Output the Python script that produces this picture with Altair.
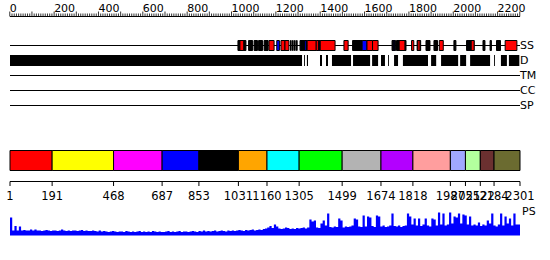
import altair as alt
import pandas as pd

# ---------------- data ----------------
LENGTH = 2301

ruler_tick_pos = list(range(0, 2301, 10))
ruler_label_pos = [0, 200, 400, 600, 800, 1000, 1200, 1400, 1600, 1800, 2000, 2200]

track_names = ["SS", "D", "TM", "CC", "SP"]

ss_black_start = [1029, 1077, 1102, 1122, 1147, 1266, 1275, 1284, 1293, 1309, 1546, 1724, 1744, 1837, 1877, 1913, 2003, 2060, 2134, 2166, 2195]
ss_black_end = [1065, 1095, 1117, 1140, 1165, 1269, 1278, 1287, 1296, 1341, 1589, 1740, 1787, 1853, 1895, 1929, 2012, 2094, 2143, 2172, 2213]

ss_red_start = [1038, 1169, 1223, 1241, 1341, 1382, 1400, 1507, 1610, 1636, 1756, 1812, 1840, 1937, 2080, 2234]
ss_red_end = [1055, 1192, 1241, 1259, 1382, 1400, 1467, 1526, 1636, 1661, 1782, 1822, 1850, 1955, 2094, 2287]

ss_blue_start = [1204, 1331, 1392, 1589, 1730, 2068, 2078]
ss_blue_end = [1216, 1338, 1397, 1610, 1734, 2070, 2080]

d_start = [1, 1327, 1340, 1399, 1426, 1453, 1548, 1634, 1674, 1706, 1733, 1773, 1900, 1945, 2031, 2076, 2184, 2215, 2251]
d_end = [1318, 1331, 1345, 1408, 1435, 1539, 1625, 1661, 1692, 1710, 1751, 1886, 1923, 2022, 2058, 2166, 2188, 2242, 2298]

domain_bounds = [1, 191, 468, 687, 853, 1031, 1160, 1305, 1499, 1674, 1818, 1987, 2055, 2122, 2184, 2301]
domain_colors = ["#ff0000", "#ffff00", "#ff00ff", "#0000ff", "#000000", "#ffa500", "#00ffff",
                 "#00ff00", "#b3b3b3", "#b300ff", "#ff9e9e", "#a0a8ff", "#b3ff9e", "#6b3030", "#6b6b30"]

# PS profile, one value per 10-residue window
ps_values = [
    18, 5, 9.5, 5, 9, 5, 5.5, 5, 5, 6,
    5, 6, 5, 5, 4.5, 5, 5.5, 5, 4.5, 5,
    5, 4.5, 5, 6, 5, 4.5, 5, 4.5, 5, 5,
    4.5, 5, 5.5, 4.5, 5, 4.5, 4.5, 5, 4.5, 4,
    5, 4, 4.5, 4, 3.5, 4, 4.5, 4, 3.5, 4,
    4, 3.5, 4.5, 4, 3.5, 4, 3.5, 4, 4.5, 3.5,
    4, 3.5, 4, 3.5, 4.5, 4, 3.5, 4, 3.5, 3.5,
    4, 4.5, 3.5, 4, 3.5, 4, 4.5, 3.5, 4, 4,
    3.5, 4, 4.5, 4, 3.5, 4.5, 4, 5, 4, 4.5,
    4, 4.5, 5, 4, 4.5, 5, 4.5, 4, 5, 4.5,
    5, 4.5, 5, 5.5, 5, 4.5, 5.5, 5, 5.5, 6,
    5, 5.5, 6, 5.5, 6.5, 7, 8, 9.5, 7.5, 11,
    9, 7, 6.5, 7, 8, 7.5, 6.5, 7, 6.5, 7.5,
    7, 7.5, 8, 7, 8, 16, 14, 15, 8, 7.5,
    12, 15, 10, 22, 8.5, 8, 9, 8.5, 17, 15,
    8, 9, 8.5, 9, 10, 17, 16, 9, 8.5, 20,
    9, 19, 18, 9.5, 8.5, 20, 19, 9, 10, 8.5,
    9, 10, 22, 9.5, 9, 10, 8.5, 9.5, 10, 22,
    19, 11, 17, 10, 17, 9.5, 11, 17, 10, 9,
    17, 16, 10, 23, 11, 22, 10, 11, 23, 12,
    19, 18, 22, 12, 21, 20, 11, 19, 10, 11,
    10, 13, 9.5, 11, 10, 15, 12, 22, 10, 9,
    11, 22, 10, 19, 12, 17, 10, 22, 11, 11,
]
ps_window = 10

# ---------------- tables ----------------
ps_pos = [1 + ps_window * i for i in range(len(ps_values))] + [LENGTH]
ps_df = pd.DataFrame({"pos": ps_pos, "ps": ps_values + [ps_values[-1]]})

ruler_df = pd.DataFrame({"pos": ruler_tick_pos,
                         "major": [p % 100 == 0 for p in ruler_tick_pos]})
ruler_lab_df = pd.DataFrame({"pos": ruler_label_pos, "label": [str(p) for p in ruler_label_pos]})
full_df = pd.DataFrame({"start": [1], "end": [LENGTH]})

ss_black_df = pd.DataFrame({"start": ss_black_start, "end": ss_black_end})
ss_red_df = pd.DataFrame({"start": ss_red_start, "end": ss_red_end})
ss_blue_df = pd.DataFrame({"start": ss_blue_start, "end": ss_blue_end})
d_df = pd.DataFrame({"start": d_start, "end": d_end})

dom_df = pd.DataFrame({"start": domain_bounds[:-1], "end": domain_bounds[1:], "color": domain_colors})
dom_lab_df = pd.DataFrame({"pos": domain_bounds, "label": [str(b) for b in domain_bounds]})

# ---------------- chart ----------------
FONT = "DejaVu Sans"
xs = alt.Scale(domain=[1, LENGTH], range=[10, 520], nice=False, zero=False)


def X(field):
    return alt.X(f"{field}:Q", scale=xs, axis=None)


def X2(field):
    return alt.X2(f"{field}:Q")


layers = []

# ruler
layers.append(alt.Chart(full_df).mark_rule(color="black", strokeWidth=1).encode(
    x=X("start"), x2=X2("end"), y=alt.value(16.5)))
layers.append(alt.Chart(ruler_df).transform_filter("!datum.major").mark_rule(color="black", strokeWidth=0.8).encode(
    x=X("pos"), y=alt.value(13.5), y2=alt.value(16.5)))
layers.append(alt.Chart(ruler_df).transform_filter("datum.major").mark_rule(color="black", strokeWidth=0.8).encode(
    x=X("pos"), y=alt.value(11.5), y2=alt.value(16.5)))
layers.append(alt.Chart(ruler_lab_df).mark_text(font=FONT, fontSize=11, align="left", baseline="alphabetic",
                                                color="black", dx=0).encode(
    x=X("pos"), y=alt.value(12), text="label:N"))

# track lines
track_y = [45, 60, 75, 90, 105]
for name, ty in zip(track_names, track_y):
    if name != "D":
        layers.append(alt.Chart(full_df).mark_rule(color="black", strokeWidth=1).encode(
            x=X("start"), x2=X2("end"), y=alt.value(ty + 0.5)))
    layers.append(alt.Chart(pd.DataFrame({"t": [name]})).mark_text(
        font=FONT, fontSize=11, align="left", baseline="middle", color="black").encode(
        x=alt.value(520), y=alt.value(ty + 0.5), text="t:N"))

# secondary structure boxes
for df, col in [(ss_black_df, "black"), (ss_red_df, "#ff0000"), (ss_blue_df, "#0000ff")]:
    layers.append(alt.Chart(df).mark_rect(fill=col, stroke="black", strokeWidth=1).encode(
        x=X("start"), x2=X2("end"), y=alt.value(40.5), y2=alt.value(50.5)))

# disorder
layers.append(alt.Chart(d_df).mark_rect(fill="black").encode(
    x=X("start"), x2=X2("end"), y=alt.value(55), y2=alt.value(66)))

# domains
layers.append(alt.Chart(dom_df).mark_rect(stroke="black", strokeWidth=1).encode(
    x=X("start"), x2=X2("end"), y=alt.value(150.5), y2=alt.value(170.5),
    fill=alt.Fill("color:N", scale=None)))
layers.append(alt.Chart(full_df).mark_rule(color="black", strokeWidth=1).encode(
    x=X("start"), x2=X2("end"), y=alt.value(181.5)))
layers.append(alt.Chart(dom_lab_df).mark_rule(color="black", strokeWidth=1).encode(
    x=X("pos"), y=alt.value(181.5), y2=alt.value(186)))
layers.append(alt.Chart(dom_lab_df).mark_text(font=FONT, fontSize=11.5, align="center", baseline="alphabetic",
                                              color="black").encode(
    x=X("pos"), y=alt.value(199.5), text="label:N"))

# PS profile
layers.append(alt.Chart(ps_df).mark_area(color="#0000ff", interpolate="step-after", opacity=1).encode(
    x=X("pos"),
    y=alt.Y("ps:Q", scale=alt.Scale(domain=[0, 25], range=[235.5, 210.5], nice=False), axis=None)))
layers.append(alt.Chart(pd.DataFrame({"t": ["PS"]})).mark_text(
    font=FONT, fontSize=11, align="left", baseline="alphabetic", color="black").encode(
    x=alt.value(522), y=alt.value(215), text="t:N"))

chart = alt.layer(*layers).properties(
    width=550, height=260, padding=0, autosize=alt.AutoSizeParams(type="none")
).configure_view(stroke=None)

chart.save("out.html", embed_options={"renderer": "svg", "actions": False})
